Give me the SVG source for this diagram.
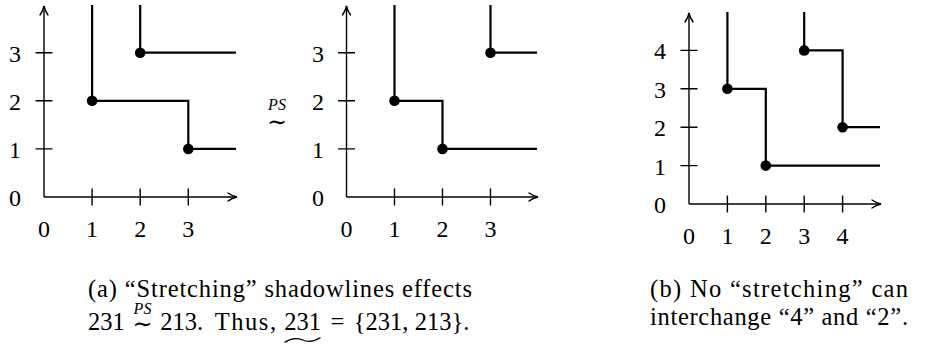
<svg xmlns="http://www.w3.org/2000/svg" width="927" height="347" viewBox="0 0 927 347">
<defs>
<style>
.ax{stroke:#000;stroke-width:1.4;fill:none}
.sl{stroke:#000;stroke-width:2.2;fill:none;stroke-linejoin:miter}
.dot{fill:#000}
.num{font-family:"Liberation Serif","DejaVu Serif",serif;font-size:24px;fill:#000;text-anchor:middle}
.cap{font-family:"Liberation Serif","DejaVu Serif",serif;font-size:24.5px;fill:#000}
.sym{font-family:"DejaVu Serif","Liberation Serif",serif;font-size:24px;fill:#000;text-anchor:middle}
.ps{font-family:"Liberation Serif","DejaVu Serif",serif;font-size:16px;font-style:italic;fill:#000;text-anchor:middle}
</style>
<marker id="arr" markerUnits="userSpaceOnUse" markerWidth="14" markerHeight="12" viewBox="-11 -6 14 12" refX="0" refY="0" orient="auto">
<path d="M-9,-4 C-5.5,-1.5 -2,-0.4 0,0 C-2,0.4 -5.5,1.5 -9,4" fill="none" stroke="#000" stroke-width="1.4" stroke-linecap="round"/>
</marker>
</defs>
<rect width="927" height="347" fill="#fff"/>

<g id="plot1">
<path class="ax" d="M44,197 V6" marker-end="url(#arr)"/>
<path class="ax" d="M44,197 H237" marker-end="url(#arr)"/>
<path class="ax" d="M35.5,148.9 H52.5 M35.5,100.8 H52.5 M35.5,52.7 H52.5 M92.1,188.5 V205.5 M140.2,188.5 V205.5 M188.3,188.5 V205.5"/>
<path class="sl" d="M92.1,5 V100.8 H188.3 V148.9 H236"/>
<path class="sl" d="M140.2,5 V52.7 H236"/>
<circle class="dot" cx="92.1" cy="100.8" r="5.3"/>
<circle class="dot" cx="188.3" cy="148.9" r="5.3"/>
<circle class="dot" cx="140.2" cy="52.7" r="5.3"/>
<text class="num" x="15" y="206">0</text>
<text class="num" x="15" y="158">1</text>
<text class="num" x="15" y="110">2</text>
<text class="num" x="15" y="62">3</text>
<text class="num" x="44" y="237">0</text>
<text class="num" x="92.1" y="237">1</text>
<text class="num" x="140.2" y="237">2</text>
<text class="num" x="188.3" y="237">3</text>
</g>

<g id="relation">
<text class="ps" x="277" y="110">PS</text>
<text class="sym" x="277" y="130">∼</text>
</g>

<g id="plot2">
<path class="ax" d="M346.5,197 V6" marker-end="url(#arr)"/>
<path class="ax" d="M346.5,197 H538" marker-end="url(#arr)"/>
<path class="ax" d="M338,148.9 H355 M338,100.8 H355 M338,52.7 H355 M394.5,188.5 V205.5 M442.5,188.5 V205.5 M490.5,188.5 V205.5"/>
<path class="sl" d="M394.5,5 V100.8 H442.5 V148.9 H537"/>
<path class="sl" d="M490.5,5 V52.7 H537"/>
<circle class="dot" cx="394.5" cy="100.8" r="5.3"/>
<circle class="dot" cx="442.5" cy="148.9" r="5.3"/>
<circle class="dot" cx="490.5" cy="52.7" r="5.3"/>
<text class="num" x="318" y="206">0</text>
<text class="num" x="318" y="158">1</text>
<text class="num" x="318" y="110">2</text>
<text class="num" x="318" y="62">3</text>
<text class="num" x="346.5" y="237">0</text>
<text class="num" x="394.5" y="237">1</text>
<text class="num" x="442.5" y="237">2</text>
<text class="num" x="490.5" y="237">3</text>
</g>

<g id="plot3">
<path class="ax" d="M689,204 V13" marker-end="url(#arr)"/>
<path class="ax" d="M689,204 H881" marker-end="url(#arr)"/>
<path class="ax" d="M680.5,165.6 H697.5 M680.5,127.2 H697.5 M680.5,88.8 H697.5 M680.5,50.4 H697.5 M727.4,195.5 V212.5 M765.8,195.5 V212.5 M804.2,195.5 V212.5 M842.6,195.5 V212.5"/>
<path class="sl" d="M727.4,12 V88.8 H765.8 V165.6 H880"/>
<path class="sl" d="M804.2,12 V50.4 H842.6 V127.2 H880"/>
<circle class="dot" cx="727.4" cy="88.8" r="5.3"/>
<circle class="dot" cx="765.8" cy="165.6" r="5.3"/>
<circle class="dot" cx="804.2" cy="50.4" r="5.3"/>
<circle class="dot" cx="842.6" cy="127.2" r="5.3"/>
<text class="num" x="660" y="213">0</text>
<text class="num" x="660" y="174.6">1</text>
<text class="num" x="660" y="136.2">2</text>
<text class="num" x="660" y="97.8">3</text>
<text class="num" x="660" y="59.4">4</text>
<text class="num" x="689" y="244">0</text>
<text class="num" x="727.4" y="244">1</text>
<text class="num" x="765.8" y="244">2</text>
<text class="num" x="804.2" y="244">3</text>
<text class="num" x="842.6" y="244">4</text>
</g>

<g id="caption-a">
<text class="cap" x="88" y="297" textLength="384" lengthAdjust="spacing">(a) “Stretching” shadowlines effects</text>
<text class="cap" x="88" y="330">231</text>
<text class="ps" x="142.5" y="314">PS</text>
<text class="sym" x="142.5" y="332">∼</text>
<text class="cap" x="160.2" y="330">213.</text>
<text class="cap" x="214.7" y="330" textLength="61.4" lengthAdjust="spacing">Thus,</text>
<text class="cap" x="284.3" y="330">231</text>
<path d="M284.5,342.5 Q293.5,336.5 302.5,340 T320.5,337.5" fill="none" stroke="#000" stroke-width="1.2"/>
<text class="cap" x="337.3" y="330" text-anchor="middle">=</text>
<text class="cap" x="353.7" y="330" textLength="115.7" lengthAdjust="spacing">{231, 213}.</text>
</g>

<g id="caption-b">
<text class="cap" x="650" y="297" textLength="258" lengthAdjust="spacing">(b) No “stretching” can</text>
<text class="cap" x="650" y="325" textLength="258" lengthAdjust="spacing">interchange “4” and “2”.</text>
</g>
</svg>
